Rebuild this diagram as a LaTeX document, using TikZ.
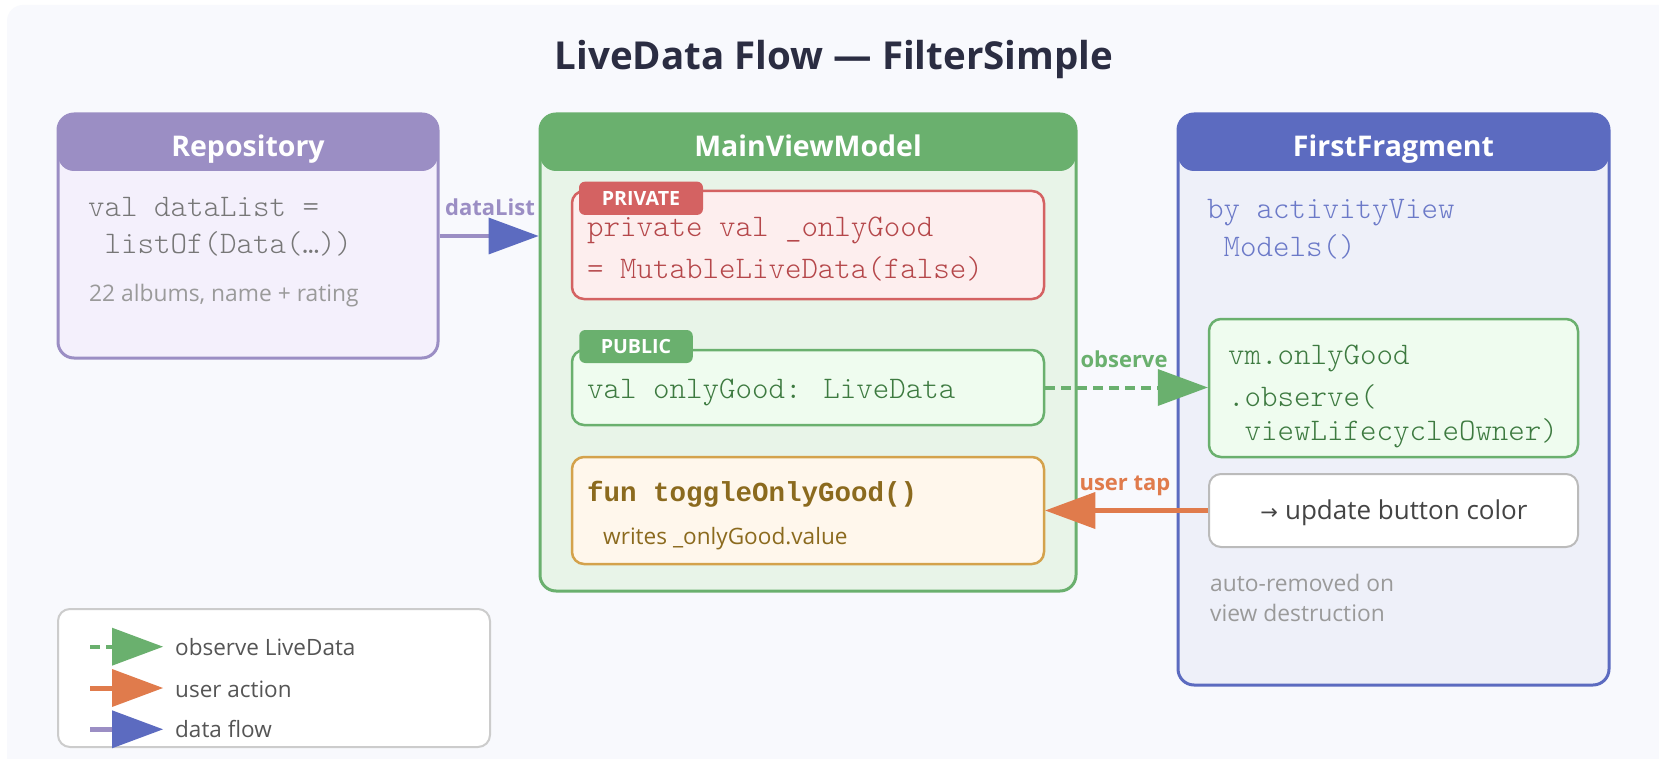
\documentclass[tikz,border=0pt]{standalone}
\usepackage{fontspec}
\setmainfont{Open Sans}
\newfontfamily\codefont{Latin Modern Mono Light}
\newfontfamily\boldcodefont{Liberation Mono}
\newfontfamily\symfont{DejaVu Sans}
\usetikzlibrary{arrows.meta}

\definecolor{bgc}{HTML}{F8F9FD}
\definecolor{titlec}{HTML}{2B2D42}
\definecolor{repoC}{HTML}{9B8EC4}
\definecolor{repoF}{HTML}{F4F0FC}
\definecolor{mvmC}{HTML}{6AB06E}
\definecolor{mvmF}{HTML}{E8F4E8}
\definecolor{ffC}{HTML}{5C6BC0}
\definecolor{ffF}{HTML}{EEF0F9}
\definecolor{privC}{HTML}{D46262}
\definecolor{privF}{HTML}{FDEEEE}
\definecolor{privT}{HTML}{B5474A}
\definecolor{pubF}{HTML}{EFFCEF}
\definecolor{pubT}{HTML}{3D7A40}
\definecolor{togC}{HTML}{D4A24C}
\definecolor{togF}{HTML}{FFF7EC}
\definecolor{togT}{HTML}{8B6A1E}
\definecolor{byT}{HTML}{6B79C8}
\definecolor{updC}{HTML}{BBBBBB}
\definecolor{updT}{HTML}{444444}
\definecolor{greyT}{HTML}{9A9A9A}
\definecolor{codeGrey}{HTML}{777777}
\definecolor{orangeC}{HTML}{E07B4C}
\definecolor{legC}{HTML}{CCCCCC}
\definecolor{legT}{HTML}{555555}

\tikzset{
  panel/.style 2 args={draw=#1, fill=#2, line width=3pt, rounded corners=16pt,
    inner sep=0pt,
    path picture={\fill[#1] (path picture bounding box.north west) rectangle
      ([yshift=-57pt]path picture bounding box.north east);}},
  hdtitle/.style={anchor=base, inner sep=0pt, text=white,
    font=\fontsize{28.5}{34}\selectfont\bfseries},
  card/.style 2 args={draw=#1, fill=#2, line width=2.5pt, rounded corners=12pt, inner sep=0pt},
  tagbox/.style={fill=#1, rounded corners=6pt, inner sep=0pt, text=white,
    font=\fontsize{19.6}{22}\selectfont\bfseries},
  code/.style={anchor=base west, inner sep=0pt, text=#1,
    font=\fontsize{31.4}{34}\selectfont\codefont},
  boldcode/.style={anchor=base west, inner sep=0pt, text=#1,
    font=\fontsize{27.5}{30}\selectfont\boldcodefont\bfseries},
  note/.style={anchor=base west, inner sep=0pt, text=#1,
    font=\fontsize{22.8}{26}\selectfont},
  lbl/.style={anchor=base, inner sep=0pt, text=#1,
    font=\fontsize{22}{26}\selectfont\bfseries},
  tipA/.style={-{Triangle[length=50pt,width=37pt,line width=0pt,color=#1]}},
  flowline/.style={draw=repoC, line width=4.5pt, tipA=ffC},
  obsline/.style={draw=mvmC, line width=4pt, dash pattern=on 10pt off 6pt, tipA=mvmC},
  tapline/.style={draw=orangeC, line width=5pt, tipA=orangeC},
}

\begin{document}
\begin{tikzpicture}[x=1pt,y=-1pt]
\useasboundingbox (0,0) rectangle (1659,759);
\fill[white] (0,0) rectangle (1659,759);
\fill[bgc, rounded corners=16pt] (7,5) rectangle (1690,790);

% title
\node[anchor=base, inner sep=0pt, text=titlec,
  font=\fontsize{38.5}{44}\selectfont\bfseries] (title) at (834,70)
  {LiveData Flow — FilterSimple};

% Repository panel
\node[panel={repoC}{repoF}, minimum width=380pt, minimum height=244pt] (repo) at (248,236) {};
\node[hdtitle] (repoT) at (248,157) {Repository};
\node[code=codeGrey] (repo1) at (88,216.7) {val dataList =};
\node[code=codeGrey] (repo2) at (104.5,254) {listOf(Data(…))};
\node[note=greyT] (repo3) at (89,301.5) {22 albums, name + rating};

% MainViewModel panel
\node[panel={mvmC}{mvmF}, minimum width=536pt, minimum height=477pt] (mvm) at (808,352.5) {};
\node[hdtitle] (mvmT) at (808,157) {MainViewModel};

\node[card={privC}{privF}, minimum width=472pt, minimum height=108pt] (priv) at (808,245) {};
\node[tagbox=privC, minimum width=124pt, minimum height=33.3pt] (privTag) at (641,198.3) {PRIVATE};
\node[code=privT] (priv1) at (587,236.7) {private val \_onlyGood};
\node[code=privT] (priv2) at (587,278.3) {= MutableLiveData(false)};

\node[card={mvmC}{pubF}, minimum width=472pt, minimum height=75pt] (pub) at (808,387.5) {};
\node[tagbox=mvmC, minimum width=113.5pt, minimum height=33pt] (pubTag) at (636,346.5) {PUBLIC};
\node[code=pubT] (pub1) at (587,398.3) {val onlyGood: LiveData};

\node[card={togC}{togF}, minimum width=472pt, minimum height=107pt] (tog) at (808,510.5) {};
\node[boldcode=togT] (tog1) at (587,501.7) {fun toggleOnlyGood()};
\node[note=togT, font=\fontsize{22.6}{26}\selectfont] (tog2) at (603,544) {writes \_onlyGood.value};

% FirstFragment panel
\node[panel={ffC}{ffF}, minimum width=431pt, minimum height=571pt] (ff) at (1393.5,399.5) {};
\node[hdtitle] (ffT) at (1393.5,157) {FirstFragment};
\node[code=byT] (ff1) at (1207,219) {by activityView};
\node[code=byT] (ff2) at (1223.5,256.7) {Models()};

\node[card={mvmC}{pubF}, minimum width=369pt, minimum height=138pt] (obs) at (1393.5,388) {};
\node[code=pubT] (obs1) at (1228,364) {vm.onlyGood};
\node[code=pubT] (obs2) at (1228,406) {.observe(};
\node[code=pubT] (obs3) at (1244.5,440) {viewLifecycleOwner)};

\node[card={updC}{white}, line width=2pt, minimum width=369pt, minimum height=73pt] (upd) at (1393.5,510.5) {};
\node[anchor=base, inner sep=0pt, text=updT, font=\fontsize{26}{30}\selectfont] (updT) at (1394,519.3)
  {{\symfont\fontsize{21}{26}\selectfont →}\hspace{7pt}update button color};

\node[note=greyT] (ffn1) at (1210,591.7) {auto-removed on};
\node[note=greyT] (ffn2) at (1210,621.7) {view destruction};

% connectors
\draw[flowline] (repo.east) -- (repo.east -| mvm.west);
\node[lbl=repoC] (lblData) at (490,215.7) {dataList};

\draw[obsline] (pub.east) -- (pub.east -| obs.west);
\node[lbl=mvmC] (lblObs) at (1124,367.3) {observe};

\draw[tapline] (upd.west) -- (upd.west -| tog.east);
\node[lbl=orangeC] (lblTap) at (1125,490) {user tap};

% legend
\node[draw=legC, fill=white, line width=2pt, rounded corners=12pt, inner sep=0pt,
  minimum width=432pt, minimum height=138pt] (legend) at (274,678) {};
\coordinate (lg1a) at (90,646.7);  \coordinate (lg1b) at (163,646.7);
\coordinate (lg2a) at (90,688);    \coordinate (lg2b) at (163,688);
\coordinate (lg3a) at (90,729.3);  \coordinate (lg3b) at (163,729.3);
\draw[obsline, -{Triangle[length=51pt,width=38pt,line width=0pt,color=mvmC]}] (lg1a) -- (lg1b);
\draw[tapline, -{Triangle[length=51pt,width=38pt,line width=0pt,color=orangeC]}] (lg2a) -- (lg2b);
\draw[flowline, -{Triangle[length=51pt,width=38pt,line width=0pt,color=ffC]}] (lg3a) -- (lg3b);
\node[note=legT, font=\fontsize{22.5}{26}\selectfont] (lgt1) at (175,655) {observe LiveData};
\node[note=legT, font=\fontsize{22.5}{26}\selectfont] (lgt2) at (175,697.3) {user action};
\node[note=legT, font=\fontsize{22.5}{26}\selectfont] (lgt3) at (175,737.7) {data flow};
\end{tikzpicture}
\end{document}
